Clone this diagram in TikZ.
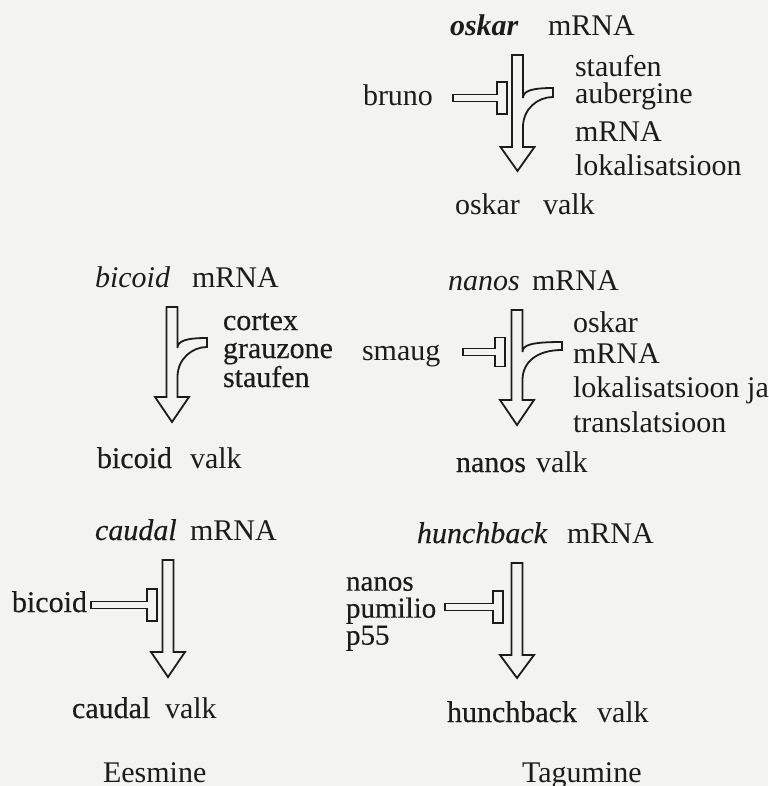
\documentclass[tikz,border=0pt]{standalone}
\usepackage{fontspec}
\setmainfont{Liberation Serif}
\newfontfamily\inkfont{Liberation Serif}[FakeBold=0.4]
\definecolor{paper}{HTML}{F3F3F1}
\definecolor{ink}{HTML}{1C1C1C}

% Hollow block arrow: centre x, top y, head top y, tip y
\newcommand\plainflow[4]{%
  \draw[blockline] ({#1-5.5},#2) -- ({#1+5.5},#2) -- ({#1+5.5},#3) -- ({#1+17},#3)
    -- (#1,#4) -- ({#1-17},#3) -- ({#1-5.5},#3) -- cycle;}
% Hollow block arrow with a side branch joining from the right:
% centre x, top y, head top y, tip y, branch end x, branch upper y, branch lower y
\newcommand\branchflow[7]{%
  \draw[blockline] ({#1-5.5},#2) -- ({#1+5.5},#2) -- ({#1+5.5},{#6+10})
    .. controls ({#1+5.5},{#6+3}) and ({#1+14},#6) .. (#5,#6) -- (#5,#7)
    .. controls ({#1+20},#7) and ({#1+5.5},{#7+12}) .. ({#1+5.5},{#7+30})
    -- ({#1+5.5},#3) -- ({#1+17},#3) -- (#1,#4) -- ({#1-17},#3)
    -- ({#1-5.5},#3) -- cycle;}
% Hollow inhibition bar: bar start x, T-bar x, centre y, half height of the T
\newcommand\blockbar[4]{%
  \draw[blockline] (#1,{#3-3.5}) -- (#2,{#3-3.5}) -- (#2,{#3-#4}) -- ({#2+10},{#3-#4})
    -- ({#2+10},{#3+#4}) -- (#2,{#3+#4}) -- (#2,{#3+3.5}) -- (#1,{#3+3.5}) -- cycle;}

\tikzset{
  lbl/.style={anchor=base west, inner sep=0pt, outer sep=0pt, text=ink,
    font=\fontsize{15}{17}\selectfont},
  gene/.style={lbl, font=\fontsize{15}{17}\selectfont\itshape},
  genebold/.style={lbl, font=\fontsize{15}{17}\selectfont\bfseries\itshape},
  geneheavy/.style={lbl, font=\fontsize{15}{17}\selectfont\inkfont\itshape},
  heavy/.style={lbl, font=\fontsize{15}{17}\selectfont\inkfont},
  stack/.style={anchor=north west, inner sep=0pt, outer sep=0pt, text=ink,
    align=left, font=\fontsize{14.5}{13.5}\selectfont\inkfont},
  blockline/.style={draw=ink, line width=0.9pt, line join=miter, fill=paper},
}

\begin{document}
\begin{tikzpicture}[x=0.5pt, y=-0.5pt]
\useasboundingbox (0,0) rectangle (768,786);
\fill[paper] (0,0) rectangle (768,786);

% ---- oskar ----
\node[genebold] (oskG) at (450,36) {oskar};
\node[lbl] (oskM) at (548,36) {mRNA};
\node[lbl] (bruno) at (363,106) {bruno};
\node[lbl] (osk1) at (575,77) {staufen};
\node[lbl] (osk2) at (575,104) {aubergine};
\node[lbl] (osk3) at (575,142) {mRNA};
\node[lbl] (osk4) at (575,176) {lokalisatsioon};
\node[lbl] (oskP) at (455,214) {oskar};
\node[lbl] (oskV) at (543,214) {valk};
\branchflow{517.5}{55}{147}{171}{553}{88}{97}
\blockbar{453}{497}{98}{16}

% ---- bicoid ----
\node[gene] (bcdG) at (95,287) {bicoid};
\node[lbl] (bcdM) at (192,287) {mRNA};
\node[heavy] (bcd1) at (223,330) {cortex};
\node[heavy] (bcd2) at (223,358) {grauzone};
\node[heavy] (bcd3) at (223,387) {staufen};
\node[heavy] (bcdP) at (97,468) {bicoid};
\node[lbl] (bcdV) at (190,468) {valk};
\branchflow{172}{307}{397}{422}{207}{338}{347}

% ---- nanos ----
\node[gene] (nosG) at (448,290) {nanos};
\node[lbl] (nosM) at (532,290) {mRNA};
\node[lbl] (smaug) at (362,360) {smaug};
\node[lbl] (nos1) at (573,332) {oskar};
\node[lbl] (nos2) at (573,363) {mRNA};
\node[lbl] (nos3) at (573,397) {lokalisatsioon ja};
\node[lbl] (nos4) at (573,432) {translatsioon};
\node[heavy] (nosP) at (456,472) {nanos};
\node[lbl] (nosV) at (536,472) {valk};
\branchflow{517}{310}{400}{425}{562}{342}{350}
\blockbar{463}{495}{352}{14.5}

% ---- caudal ----
\node[geneheavy] (cadG) at (95,540) {caudal};
\node[lbl] (cadM) at (190,540) {mRNA};
\node[heavy] (cadR) at (12,612) {bicoid};
\node[heavy] (cadP) at (72,718) {caudal};
\node[lbl] (cadV) at (165,718) {valk};
\plainflow{168}{560}{652}{677}
\blockbar{91}{147}{605}{16}

% ---- hunchback ----
\node[geneheavy] (hbG) at (417,543) {hunchback};
\node[lbl] (hbM) at (567,543) {mRNA};
\node[stack] (hbR) at (346,577) {nanos\\pumilio\\p55};
\node[heavy] (hbP) at (447,722) {hunchback};
\node[lbl] (hbV) at (597,722) {valk};
\plainflow{517}{563}{655}{678}
\blockbar{445}{493}{607}{16}

% ---- column headings ----
\node[lbl] (ant) at (103,782) {Eesmine};
\node[lbl] (post) at (522,782) {Tagumine};
\end{tikzpicture}
\end{document}
